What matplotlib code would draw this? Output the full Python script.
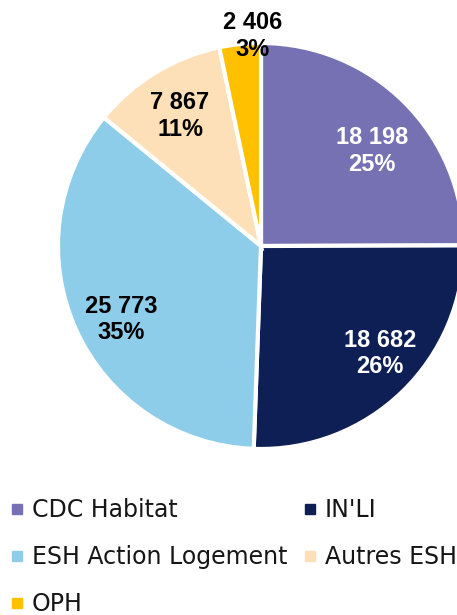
import matplotlib
matplotlib.use("Agg")
import matplotlib.pyplot as plt
import numpy as np

# Données
categories = ["CDC Habitat", "IN'LI", "ESH Action Logement", "Autres ESH", "OPH"]
valeurs = [18198, 18682, 25773, 7867, 2406]
etiquettes = ["18 198\n25%", "18 682\n26%", "25 773\n35%", "7 867\n11%", "2 406\n3%"]
couleurs = ["#7571B3", "#0E1F56", "#8ECDEA", "#FDDFB8", "#FFC000"]

# positions des étiquettes (rayon, angle en degrés)
pos_etiq = [(0.72, 40.6), (0.79, -42), (0.78, 207.7), (0.755, 121.9), (1.035, 92.2)]
couleurs_txt = ["white", "white", "black", "black", "black"]

W, H = 457, 615
fig = plt.figure(figsize=(W / 100, H / 100), dpi=100)

cx, cy, r = 261, 246, 203
ax = fig.add_axes([(cx - r) / W, (H - cy - r) / H, 2 * r / W, 2 * r / H])
ax.pie(valeurs, colors=couleurs, startangle=90, counterclock=False, radius=1,
       wedgeprops=dict(edgecolor="white", linewidth=3))
ax.set_xlim(-1, 1)
ax.set_ylim(-1, 1)
ax.set_aspect("equal")
ax.axis("off")

for (rr, ang), txt, c in zip(pos_etiq, etiquettes, couleurs_txt):
    x = rr * np.cos(np.radians(ang))
    y = rr * np.sin(np.radians(ang))
    ax.text(x, y, txt, ha="center", va="center", color=c, fontsize=17,
            fontweight="bold", family="Liberation Sans", linespacing=1.2)

# Légende faite à la main (2 colonnes)
col_x = [12, 305]
lig_y = [509, 556, 603]
for i, (nom, c) in enumerate(zip(categories, couleurs)):
    x0 = col_x[i % 2]
    y0 = lig_y[i // 2]
    fig.patches.append(plt.Rectangle((x0 / W, (H - y0 - 5) / H), 10 / W, 10 / H,
                                     transform=fig.transFigure, color=c, figure=fig))
    fig.text((x0 + 20) / W, (H - y0 - 8) / H, nom, ha="left", va="baseline",
             fontsize=17, family="DejaVu Sans", color="#161616")

fig.savefig("out.png", dpi=100)
